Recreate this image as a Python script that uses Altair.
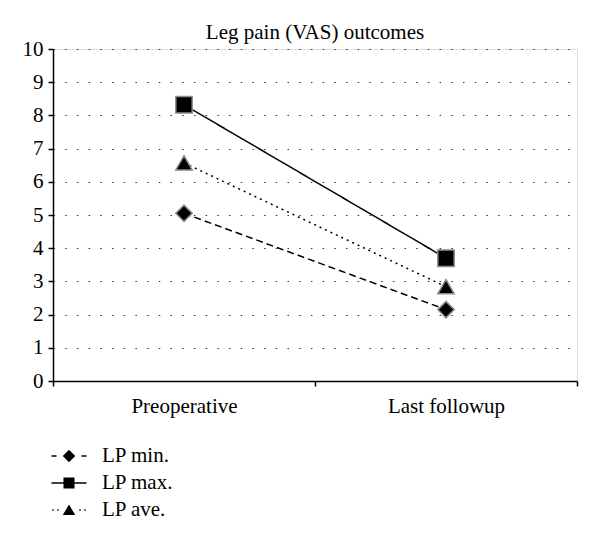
import json
import altair as alt
import pandas as pd

phases = ["Preoperative", "Last followup"]
series = ["LP min.", "LP max.", "LP ave."]
lp_min = [5.05, 2.15]
lp_max = [8.32, 3.70]
lp_ave = [6.57, 2.84]
y_ticks = list(range(0, 11))

rows = []
for s, vals in zip(series, [lp_min, lp_max, lp_ave]):
    for p, v in zip(phases, vals):
        rows.append({"series": s, "phase": p, "value": v})
df = pd.DataFrame(rows)

FONT = "Liberation Serif"
FS = 21


def rect(x0, x1, h=0.065):
    return f"M{x0},{-h}L{x1},{-h}L{x1},{h}L{x0},{h}Z"


path_min = rect(-1.46, -1.04) + rect(1.04, 1.46) + "M0,-0.52L0.52,0L0,0.52L-0.52,0Z"
path_max = rect(-1.46, 1.46) + "M-0.46,-0.46L0.46,-0.46L0.46,0.46L-0.46,0.46Z"
path_ave = (rect(-1.39, -1.27) + rect(-0.98, -0.86) + rect(0.86, 0.98) + rect(1.27, 1.39)
            + "M0,-0.45L0.52,0.42L-0.52,0.42Z")

xexpr = f"indexof({json.dumps(phases)}, datum.phase) + 0.5"

base = alt.Chart(df).transform_calculate(xpos=xexpr)

x_enc = alt.X(
    "xpos:Q",
    scale=alt.Scale(domain=[0, len(phases)]),
    axis=alt.Axis(
        title=None,
        values=[0, 0.5, 1, 1.5, 2],
        labelExpr=f"datum.value == 0.5 ? '{phases[0]}' : datum.value == 1.5 ? '{phases[1]}' : ''",
        tickOpacity={"condition": {"test": "datum.value % 1 == 0", "value": 1}, "value": 0},
        grid=False,
        tickSize=5,
        labelPadding=9,
        labelFont=FONT,
        labelFontSize=FS,
        labelColor="black",
        domainColor="black",
        domainWidth=1.5,
        tickColor="black",
        tickWidth=1.5,
    ),
)
y_enc = alt.Y(
    "value:Q",
    scale=alt.Scale(domain=[0, 10]),
    axis=alt.Axis(
        title=None,
        values=y_ticks,
        tickCount=11,
        labelOverlap=False,
        grid=True,
        gridDash=[1.5, 10.2],
        gridColor="#333",
        gridWidth=1.2,
        tickSize=5,
        labelPadding=5,
        labelFont=FONT,
        labelFontSize=FS,
        labelColor="black",
        domainColor="black",
        domainWidth=1.5,
        tickColor="black",
        tickWidth=1.5,
    ),
)

lines = base.mark_line(color="black", strokeWidth=1.5).encode(
    x=x_enc,
    y=y_enc,
    detail="series:N",
    strokeDash=alt.StrokeDash(
        "series:N",
        scale=alt.Scale(domain=series, range=[[7, 4], [1, 0], [2, 4]]),
        legend=None,
    ),
)

points = base.mark_point(filled=True, color="black", stroke="#8c8c8c", strokeWidth=1.5,
                         opacity=1, size=270).encode(
    x=x_enc,
    y=y_enc,
    shape=alt.Shape(
        "series:N",
        scale=alt.Scale(domain=series, range=["diamond", "square", "triangle-up"]),
        legend=None,
    ),
)

legend_carrier = base.mark_point(filled=True, color="black", opacity=0).encode(
    x=x_enc,
    y=y_enc,
    shape=alt.Shape(
        "series:N",
        scale=alt.Scale(domain=series, range=[path_min, path_max, path_ave]),
        legend=alt.Legend(
            title=None,
            orient="none",
            legendX=4,
            legendY=395,
            direction="vertical",
            symbolSize=576,
            symbolOpacity=1,
            symbolFillColor="black",
            symbolStrokeWidth=0,
            labelFont=FONT,
            labelFontSize=FS,
            labelColor="black",
            labelOffset=21,
            rowPadding=5,
            padding=0,
        ),
    ),
)

chart = (
    alt.layer(lines, points, legend_carrier)
    .resolve_scale(shape="independent")
    .properties(
        width=524,
        height=332,
        padding={"left": 14, "top": 14, "right": 10, "bottom": 10},
        title=alt.TitleParams(
            "Leg pain (VAS) outcomes",
            font=FONT,
            fontSize=FS,
            fontWeight="normal",
            color="black",
            offset=-5,
            anchor="middle",
        ),
    )
    .configure_view(stroke="black", strokeWidth=1.5)
    .configure(background="white")
)

chart.save("out.html", embed_options={"renderer": "svg", "actions": False})
